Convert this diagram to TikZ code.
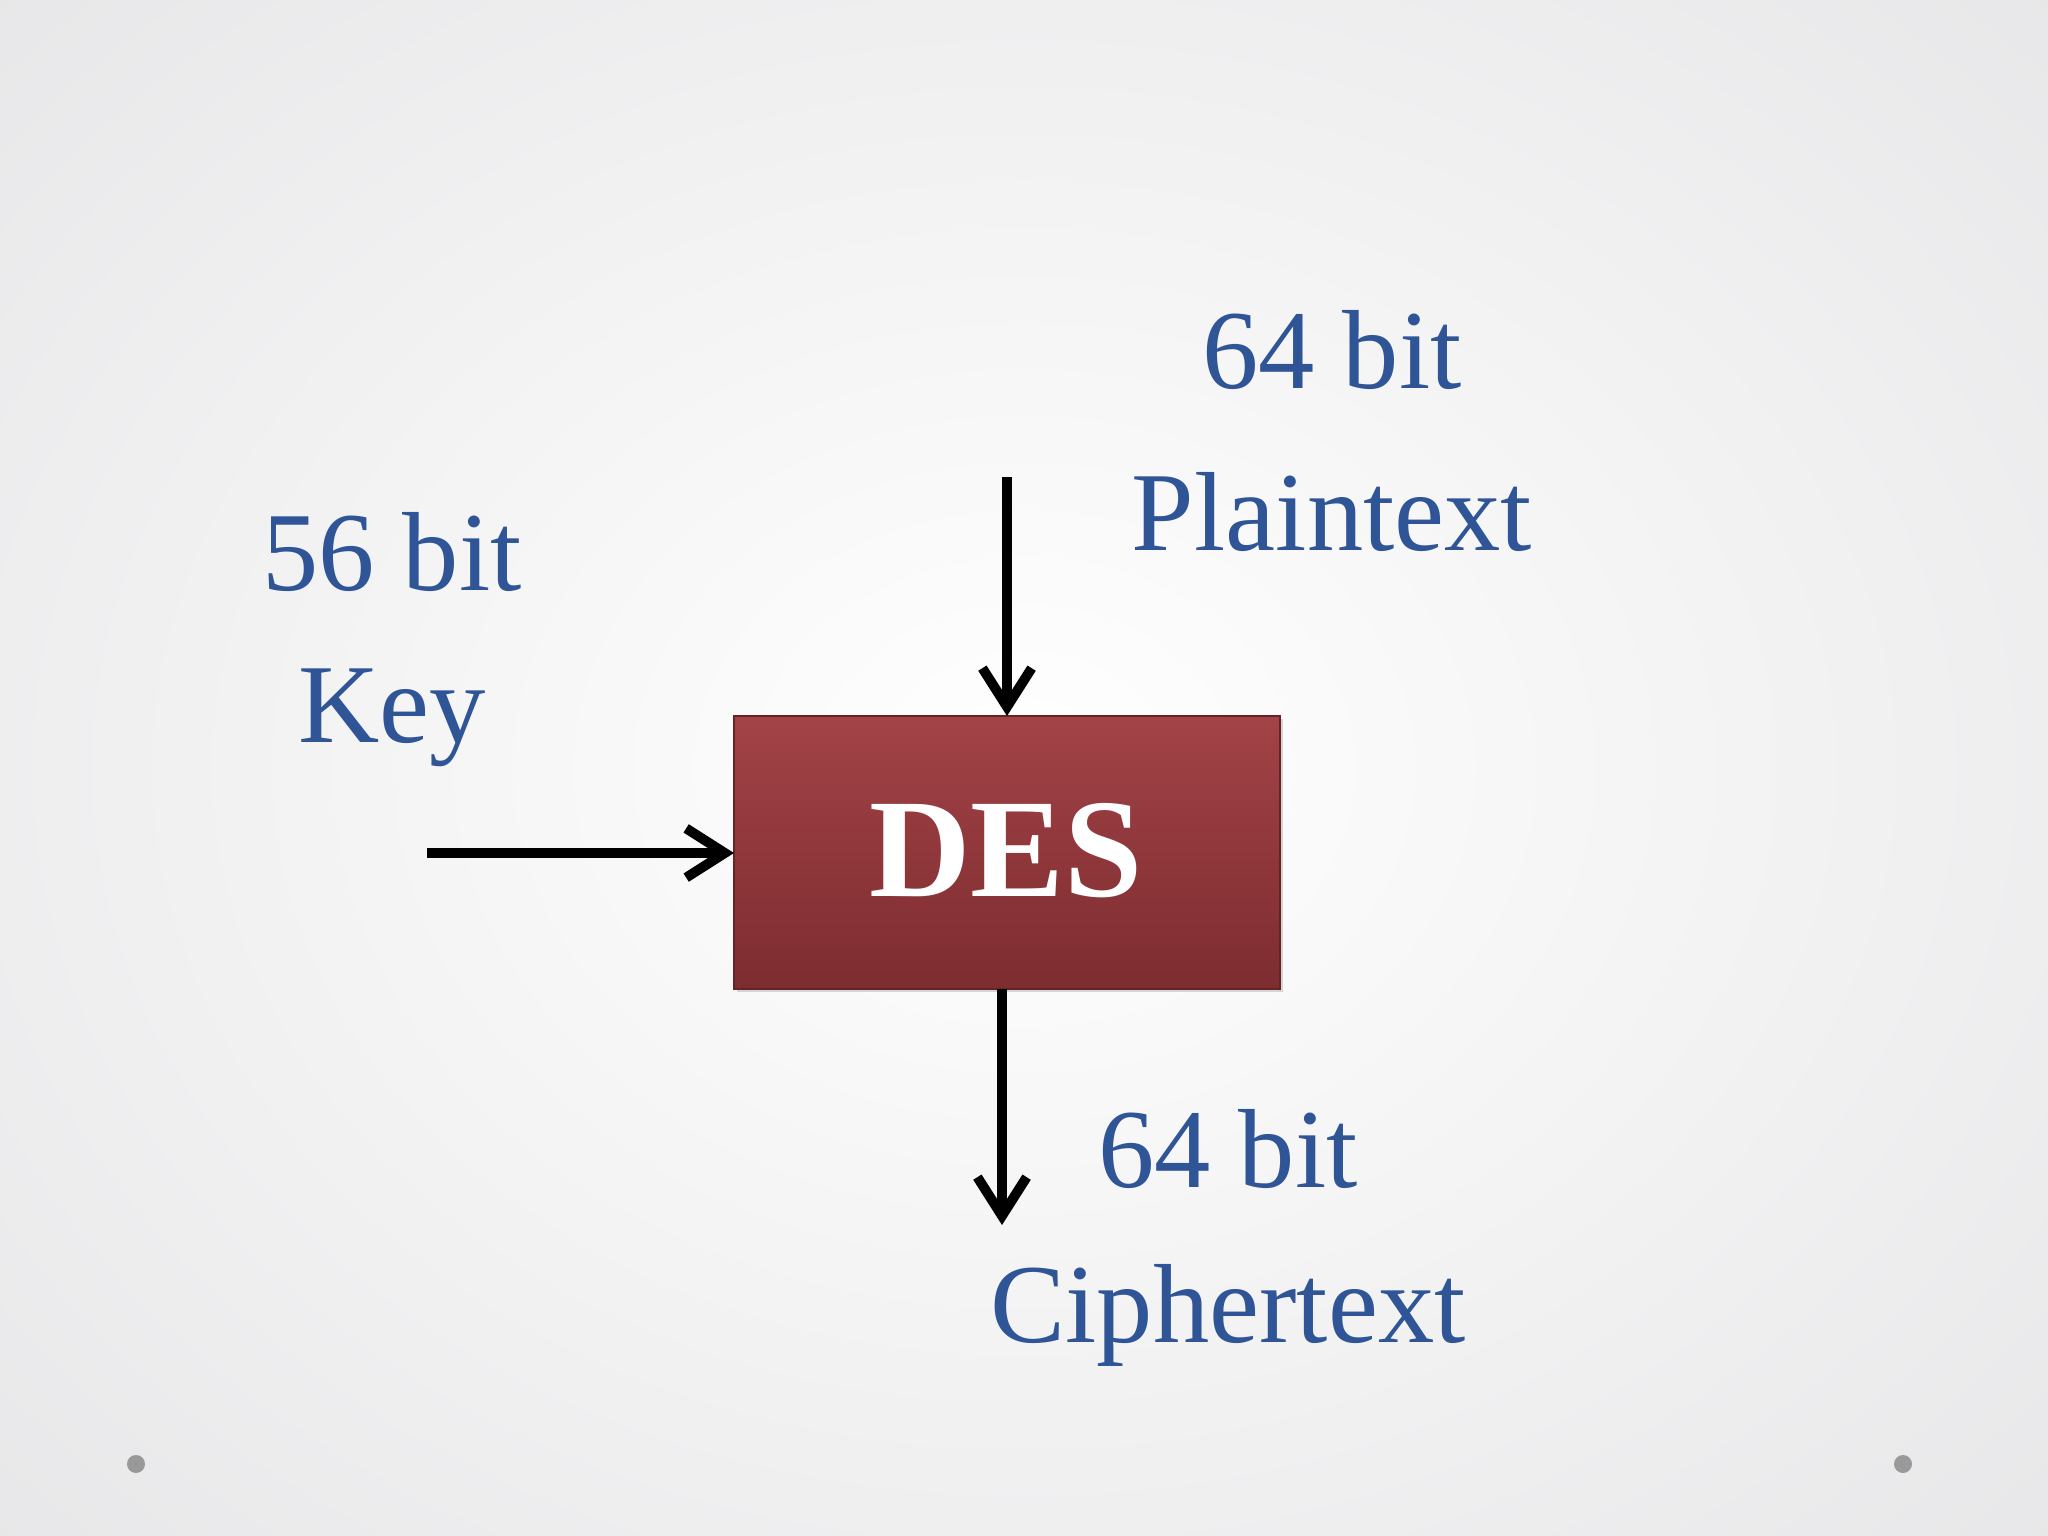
\documentclass[tikz,border=0pt]{standalone}
\usepackage{fontspec}
\setmainfont{Liberation Serif}
\usetikzlibrary{arrows.meta}
\definecolor{txtblue}{HTML}{2F5597}
\definecolor{boxtop}{HTML}{A24347}
\definecolor{boxbot}{HTML}{7D2C30}
\definecolor{bgedge}{HTML}{E4E4E6}
\begin{document}
\begin{tikzpicture}[x=0.01cm,y=-0.01cm,
  lbl/.style={text=txtblue,font=\fontsize{32}{36}\selectfont,inner sep=0pt},
  arr/.style={line width=2.8pt,-{Straight Barb[length=11pt,width=14pt,line width=2.8pt]}}]
\useasboundingbox (0,0) rectangle (2048,1536);
\shade[inner color=white,outer color=bgedge] (-600,-500) rectangle (2648,2036);
\fill[black!30,opacity=0.5] (737,719) rectangle (1283,992);
\shade[top color=boxtop,bottom color=boxbot,draw=boxbot!80!black,line width=0.6pt] (734,716) rectangle (1280,989);
\coordinate (bt) at (1007,716);
\coordinate (bl) at (734,853);
\coordinate (bb) at (1002,989);
\node[text=white,font=\bfseries\fontsize{40}{46}\selectfont] (des) at (1006,851) {DES};
\coordinate (pt) at (1007,477);
\coordinate (kt) at (427,853);
\coordinate (ct) at (1002,1225);
\draw[arr] (pt) -- (bt);
\draw[arr] (kt) -- (bl);
\draw[arr] (bb) -- (ct);
\node[lbl] (p1) at (1332,350) {64 bit};
\node[lbl] (p2) at (1332,512) {Plaintext};
\node[lbl] (k1) at (392,552) {56 bit};
\node[lbl] (k2) at (392,718) {Key};
\node[lbl] (c1) at (1228,1149) {64 bit};
\node[lbl] (c2) at (1228,1315) {Ciphertext};
\fill[gray!80] (136,1464) circle (9);
\fill[gray!80] (1903,1464) circle (9);
\end{tikzpicture}
\end{document}
